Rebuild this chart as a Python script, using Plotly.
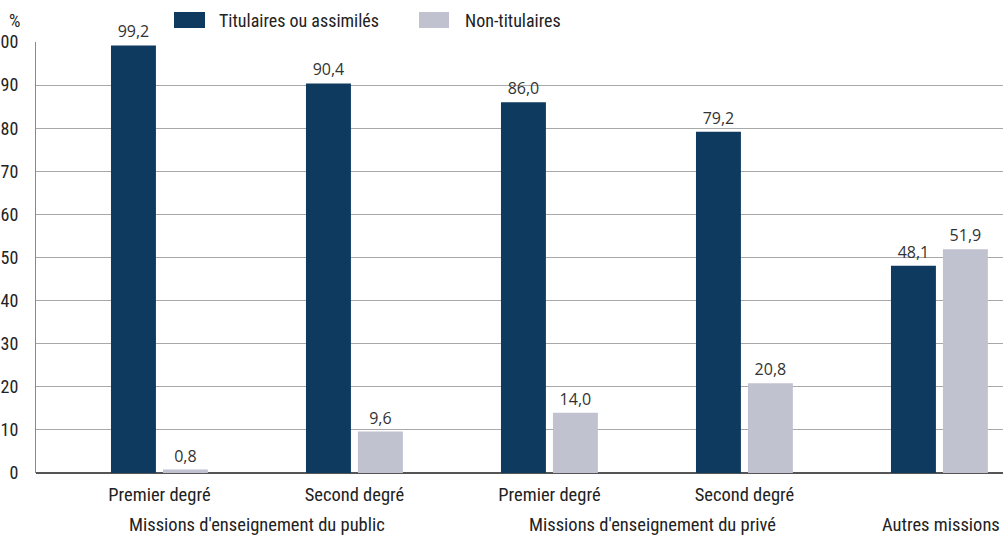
import plotly.graph_objects as go

# ---- data ----
sub_labels = ["Premier degré", "Second degré", "Premier degré", "Second degré", ""]
group_labels = ["Missions d'enseignement du public", "Missions d'enseignement du privé", "Autres missions"]
group_pos = [0.5, 2.53, 4.01]
series_names = ["Titulaires ou assimilés", "Non-titulaires"]
titulaires = [99.2, 90.4, 86.0, 79.2, 48.1]
non_titulaires = [0.8, 9.6, 14.0, 20.8, 51.9]
y_ticks = [0, 10, 20, 30, 40, 50, 60, 70, 80, 90, 100]

DARK = "#0e3a5f"
LIGHT = "#c0c2d0"
W, H = 1003, 535
ML, MR, MT, MB = 36, 0, 42, 62
PW, PH = W - ML - MR, H - MT - MB

AX_FONT = "Roboto Condensed, Liberation Sans Narrow, Roboto, sans-serif"
VAL_FONT = "Open Sans, Noto Sans, sans-serif"

def px(x):
    return (x - ML) / PW

def py(y):
    return (H - MB - y) / PH

xs = list(range(len(titulaires)))

fig = go.Figure()
for name, vals, col in [(series_names[0], titulaires, DARK), (series_names[1], non_titulaires, LIGHT)]:
    fig.add_trace(go.Bar(
        x=xs, y=vals, name=name, marker=dict(color=col, line=dict(width=0)),
        texttemplate="%{y:.1f}", textposition="outside", cliponaxis=False,
        textfont=dict(family=VAL_FONT, size=16, color="#333333"),
        showlegend=False,
    ))

fig.update_layout(
    width=W, height=H, margin=dict(l=ML, r=MR, t=MT, b=MB, autoexpand=False),
    paper_bgcolor="white", plot_bgcolor="white",
    barmode="group", bargap=0.467, bargroupgap=0.135,
    separators=", ",
    xaxis=dict(
        range=[-0.633, 4.326], tickvals=xs, ticktext=sub_labels,
        showgrid=False, zeroline=False, showline=False, automargin=False,
        ticks="outside", ticklen=5, tickcolor="rgba(0,0,0,0)",
        tickfont=dict(family=AX_FONT, size=18.5, color="#222222"),
    ),
    yaxis=dict(
        range=[0, 100], tickvals=y_ticks, ticktext=[str(v) for v in y_ticks],
        showgrid=True, gridcolor="#a8a8a8", gridwidth=1,
        zeroline=True, zerolinecolor="#555555", zerolinewidth=1.5,
        showline=True, linecolor="#8a8a8a", linewidth=1, automargin=False,
        ticks="outside", ticklen=13, tickcolor="rgba(0,0,0,0)",
        tickfont=dict(family=AX_FONT, size=18, color="#222222"),
    ),
    font=dict(family=AX_FONT),
)

# group labels
for lab, gx in zip(group_labels, group_pos):
    fig.add_annotation(x=gx, xref="x", y=py(525), yref="paper", text=lab,
                       showarrow=False, xanchor="center", yanchor="middle",
                       font=dict(family=AX_FONT, size=18.5, color="#222222"))

# % label
fig.add_annotation(x=px(14), xref="paper", y=py(20), yref="paper", text="%",
                   showarrow=False, xanchor="center", yanchor="middle",
                   font=dict(family=AX_FONT, size=18, color="#222222"))

# custom legend
legend_items = [(series_names[0], DARK, 174, 205, 217), (series_names[1], LIGHT, 419, 449, 463)]
for name, col, x0, x1, tx in legend_items:
    fig.add_shape(type="rect", xref="paper", yref="paper",
                  x0=px(x0), x1=px(x1), y0=py(28), y1=py(12),
                  fillcolor=col, line=dict(width=0))
    fig.add_annotation(x=px(tx), xref="paper", y=py(20), yref="paper", text=name,
                       showarrow=False, xanchor="left", yanchor="middle",
                       font=dict(family=AX_FONT, size=18, color="#222222"))

fig.write_html("out.html")
